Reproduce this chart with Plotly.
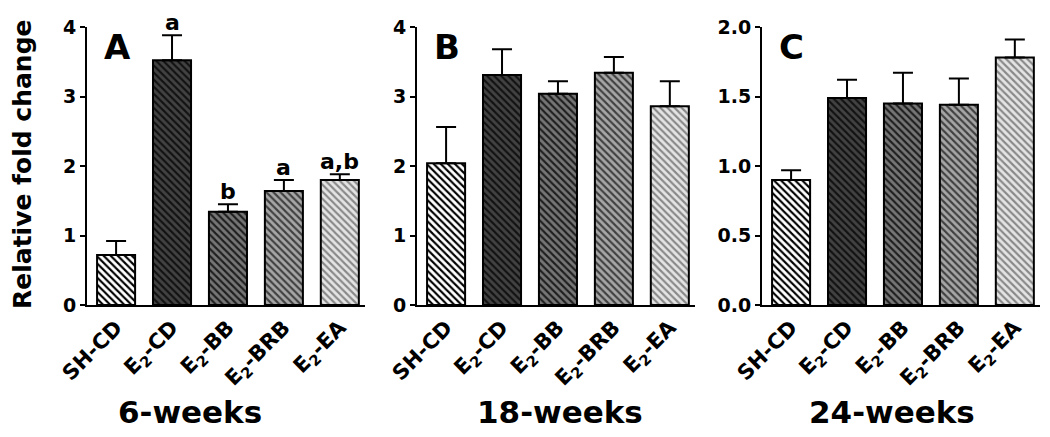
import plotly.graph_objects as go

categories = ["SH-CD", "E<sub>2</sub>-CD", "E<sub>2</sub>-BB", "E<sub>2</sub>-BRB", "E<sub>2</sub>-EA"]
panels = ["A", "B", "C"]
periods = ["6-weeks", "18-weeks", "24-weeks"]

mean_6w = [0.72, 3.52, 1.34, 1.64, 1.80]
sem_6w = [0.20, 0.36, 0.11, 0.16, 0.08]
mean_18w = [2.04, 3.31, 3.04, 3.34, 2.86]
sem_18w = [0.52, 0.37, 0.18, 0.23, 0.36]
mean_24w = [0.90, 1.49, 1.45, 1.44, 1.78]
sem_24w = [0.07, 0.13, 0.22, 0.19, 0.13]
sig_6w = ["", "a", "b", "a", "a,b"]

y_max = [4, 4, 2]
y_dtick = [1, 1, 0.5]

bg_colors = ["#ffffff", "#424242", "#767676", "#a6a6a6", "#e4e4e4"]
fg_colors = ["#000000", "#111111", "#1e1e1e", "#404040", "#888888"]

means = [mean_6w, mean_18w, mean_24w]
sems = [sem_6w, sem_18w, sem_24w]

W, H = 1050, 437
x_dom_px = [(87, 365), (417, 695), (762, 1040)]
y_dom = [1 - 305 / H, 1 - 27 / H]
FONT = "DejaVu Sans"

fig = go.Figure()
for i in range(3):
    sfx = "" if i == 0 else str(i + 1)
    for j in range(len(categories)):
        fig.add_trace(go.Bar(
            x=[j], y=[means[i][j]], width=0.68,
            xaxis="x" + sfx, yaxis="y" + sfx,
            marker=dict(
                color=bg_colors[j],
                line=dict(color="black", width=2),
                pattern=dict(shape="\\", bgcolor=bg_colors[j], fgcolor=fg_colors[j],
                             fgopacity=1, size=5, solidity=0.42, fillmode="replace"),
            ),
            error_y=dict(type="data", array=[sems[i][j]], arrayminus=[0], symmetric=False,
                         color="black", thickness=2, width=10),
            showlegend=False,
        ))

layout = dict(
    width=W, height=H,
    barmode="overlay",
    margin=dict(l=0, r=0, t=0, b=0, pad=0, autoexpand=False),
    plot_bgcolor="white", paper_bgcolor="white",
    font=dict(family=FONT, color="black"),
)
idx = list(range(len(categories)))
annotations = []
for i in range(3):
    sfx = "" if i == 0 else str(i + 1)
    x0, x1 = x_dom_px[i]
    layout["xaxis" + sfx] = dict(
        domain=[x0 / W, x1 / W], range=[-0.52, 4.45], anchor="y" + sfx,
        tickmode="array", tickvals=idx, ticktext=categories, tickangle=-45,
        tickfont=dict(family=FONT, size=21, weight="bold"),
        showline=True, linewidth=2, linecolor="black", ticks="",
        showgrid=False, zeroline=False, fixedrange=True, automargin=False,
    )
    layout["yaxis" + sfx] = dict(
        domain=y_dom, range=[0, y_max[i]], anchor="x" + sfx, dtick=y_dtick[i],
        tickformat=".1f" if y_max[i] == 2 else "d",
        tickfont=dict(family=FONT, size=19, weight="bold"),
        showline=True, linewidth=2, linecolor="black", ticks="outside",
        ticklen=5, tickwidth=2, tickcolor="black",
        showgrid=False, zeroline=False, fixedrange=True, automargin=False,
    )
    annotations.append(dict(
        text=panels[i], x=-0.25, y=y_max[i], xref="x" + sfx, yref="y" + sfx,
        xanchor="left", yanchor="top", showarrow=False, yshift=2,
        font=dict(family=FONT, size=34, weight="bold"),
    ))

title_x = [190, 560, 892]
for i in range(3):
    annotations.append(dict(
        text=periods[i], x=title_x[i] / W, y=1 - 412 / H, xref="paper", yref="paper",
        xanchor="center", yanchor="middle", showarrow=False,
        font=dict(family=FONT, size=31, weight="bold"),
    ))

for j, lab in enumerate(sig_6w):
    if lab:
        annotations.append(dict(
            text=lab, x=j, y=mean_6w[j] + sem_6w[j], xref="x", yref="y",
            xanchor="center", yanchor="bottom", showarrow=False, yshift=-2,
            font=dict(family=FONT, size=22, weight="bold"),
        ))

annotations.append(dict(
    text="Relative fold change", x=22 / W, y=1 - 165 / H, xref="paper", yref="paper",
    xanchor="center", yanchor="middle", textangle=-90, showarrow=False,
    font=dict(family=FONT, size=25, weight="bold"),
))
layout["annotations"] = annotations
fig.update_layout(**layout)
fig.write_html("out.html", config={"displayModeBar": False},
               post_script="document.body.style.margin='0';")
